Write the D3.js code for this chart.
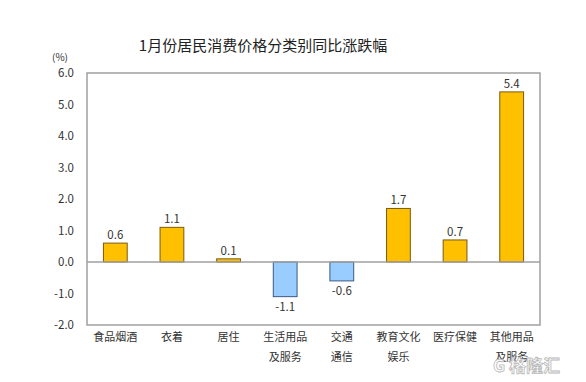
<!DOCTYPE html>
<html>
<head>
<meta charset="utf-8">
<script src="https://cdn.jsdelivr.net/npm/d3@7"></script>
<style>
  body { margin: 0; background: #fff; }
  text { font-family: "Noto Sans CJK SC", "Liberation Sans", Arial, sans-serif; }
</style>
</head>
<body>
<div id="chart"></div>
<script>
// data
var categories = ["食品烟酒", "衣着", "居住", "生活用品\n及服务", "交通\n通信", "教育文化\n娱乐", "医疗保健", "其他用品\n及服务"];
var values = [0.6, 1.1, 0.1, -1.1, -0.6, 1.7, 0.7, 5.4];
var yTicks = [-2, -1, 0, 1, 2, 3, 4, 5, 6];

var w = 586, h = 382;
var plotLeft = 87, plotRight = 540, plotTop = 73, plotBottom = 325;

var svg = d3.select("#chart").append("svg")
  .attr("width", w).attr("height", h);

var x = d3.scaleBand().domain(categories).range([plotLeft, plotRight]).paddingInner(0.58).paddingOuter(0.29);
var y = d3.scaleLinear().domain([-2, 6]).range([plotBottom, plotTop]);

// title
svg.append("text")
  .attr("x", 263).attr("y", 51)
  .attr("text-anchor", "middle")
  .attr("font-size", 15).attr("fill", "#222")
  .text("1月份居民消费价格分类别同比涨跌幅");

svg.append("text")
  .attr("x", 60).attr("y", 61)
  .attr("text-anchor", "middle")
  .attr("font-size", 10).attr("fill", "#333")
  .text("(%)");

// frame
svg.append("rect")
  .attr("x", plotLeft).attr("y", plotTop)
  .attr("width", plotRight - plotLeft).attr("height", plotBottom - plotTop)
  .attr("fill", "none").attr("stroke", "#a0a0a0").attr("stroke-width", 1.5);

// y axis labels
svg.selectAll(".ytick").data(yTicks).enter().append("text")
  .attr("x", 74).attr("y", function(d) { return y(d) + 4; })
  .attr("text-anchor", "end").attr("font-size", 11.5).attr("fill", "#333")
  .text(function(d) { return d.toFixed(1); });

// bars
svg.selectAll(".bar").data(values).enter().append("rect")
  .attr("x", function(d, i) { return x(categories[i]); })
  .attr("y", function(d) { return y(Math.max(0, d)); })
  .attr("width", x.bandwidth())
  .attr("height", function(d) { return Math.abs(y(d) - y(0)); })
  .attr("fill", function(d) { return d >= 0 ? "#ffc000" : "#99ccff"; })
  .attr("stroke", function(d) { return d >= 0 ? "#7a5a10" : "#3d5a80"; })
  .attr("stroke-width", 1);

// zero line
svg.append("line")
  .attr("x1", plotLeft).attr("x2", plotRight)
  .attr("y1", y(0)).attr("y2", y(0))
  .attr("stroke", "#a0a0a0").attr("stroke-width", 1.5);

// value labels
svg.selectAll(".val").data(values).enter().append("text")
  .attr("x", function(d, i) { return x(categories[i]) + x.bandwidth() / 2; })
  .attr("y", function(d) { return d >= 0 ? y(d) - 4 : y(d) + 14; })
  .attr("text-anchor", "middle").attr("font-size", 11.5).attr("fill", "#333")
  .text(function(d) { return d.toFixed(1); });

// category labels
svg.selectAll(".cat").data(categories).enter().append("text")
  .attr("text-anchor", "middle").attr("font-size", 11).attr("fill", "#333")
  .each(function(d) {
    var t = d3.select(this);
    d.split("\n").forEach(function(line, k) {
      t.append("tspan")
        .attr("x", x(d) + x.bandwidth() / 2)
        .attr("y", 341 + k * 20)
        .text(line);
    });
  });

// watermark
svg.append("text")
  .attr("x", 560).attr("y", 372)
  .attr("text-anchor", "end").attr("font-size", 17).attr("font-weight", "bold")
  .attr("fill", "#fff").attr("stroke", "#b8b8b8").attr("stroke-width", 0.8)
  .text("G 格隆汇");
</script>
</body>
</html>
